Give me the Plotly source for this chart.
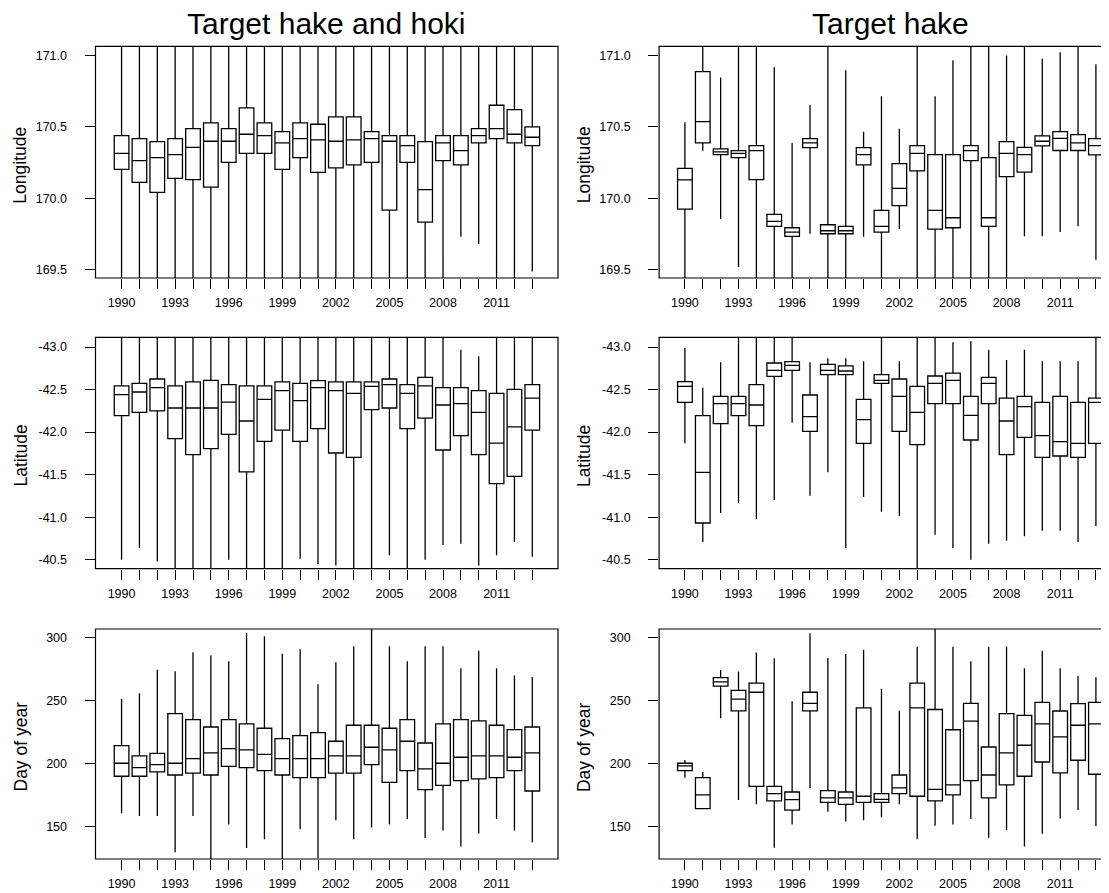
import plotly.graph_objects as go
from plotly.subplots import make_subplots

years = list(range(1990, 2014))
x_tick_labels = [str(y) if (y - 1990) % 3 == 0 else "" for y in years]

# ---------------- Longitude, target hake and hoki ----------------
lon_both_hi = [171.2] * 24
lon_both_q3 = [170.439, 170.418, 170.397, 170.418, 170.488, 170.528, 170.488, 170.633, 170.528, 170.467, 170.528, 170.519,
               170.570, 170.570, 170.467, 170.439, 170.439, 170.397, 170.439, 170.439, 170.488, 170.652, 170.621, 170.500]
lon_both_med = [170.315, 170.264, 170.285, 170.306, 170.357, 170.400, 170.400, 170.449, 170.439, 170.388, 170.418, 170.409,
                170.400, 170.409, 170.418, 170.400, 170.369, 170.061, 170.388, 170.334, 170.439, 170.488, 170.449, 170.428]
lon_both_q1 = [170.203, 170.112, 170.042, 170.140, 170.131, 170.079, 170.252, 170.315, 170.315, 170.203, 170.285, 170.182,
               170.213, 170.234, 170.252, 169.918, 170.252, 169.834, 170.264, 170.234, 170.388, 170.418, 170.388, 170.369]
lon_both_lo = [169.3, 169.3, 169.3, 169.3, 169.3, 169.3, 169.3, 169.3, 169.3, 169.3, 169.3, 169.3,
               169.3, 169.3, 169.3, 169.3, 169.3, 169.3, 169.3, 169.731, 169.680, 169.3, 169.3, 169.488]

# ---------------- Longitude, target hake ----------------
lon_hake_hi = [170.533, 171.2, 170.846, 171.2, 171.2, 170.918, 170.388, 170.654, 171.2, 170.897, 170.467, 170.715,
               170.488, 171.2, 170.715, 170.967, 171.2, 171.2, 171.0, 171.2, 170.979, 171.023, 171.2, 170.940]
lon_hake_q3 = [170.210, 170.888, 170.346, 170.334, 170.369, 169.888, 169.794, 170.418, 169.815, 169.804, 170.355, 169.916,
               170.243, 170.369, 170.306, 170.306, 170.369, 170.285, 170.397, 170.357, 170.437, 170.467, 170.446, 170.418]
lon_hake_med = [170.129, 170.537, 170.325, 170.315, 170.334, 169.839, 169.764, 170.388, 169.773, 169.773, 170.306, 169.804,
                170.070, 170.315, 169.916, 169.864, 170.334, 169.864, 170.315, 170.306, 170.400, 170.420, 170.388, 170.369]
lon_hake_q1 = [169.925, 170.388, 170.306, 170.285, 170.131, 169.804, 169.734, 170.355, 169.752, 169.752, 170.234, 169.764,
               169.949, 170.192, 169.785, 169.794, 170.264, 169.804, 170.152, 170.184, 170.367, 170.335, 170.335, 170.305]
lon_hake_lo = [169.3, 170.334, 169.855, 169.519, 169.3, 169.3, 169.3, 169.752, 169.3, 169.3, 169.731, 169.3,
               169.785, 169.3, 169.3, 169.3, 169.3, 169.3, 169.3, 169.734, 169.734, 169.764, 169.804, 169.570]

# ---------------- Latitude, target hake and hoki ----------------
lat_both_lo = [-43.3] * 19 + [-42.969, -42.890, -43.3, -43.3, -43.3]
lat_both_q1 = [-42.542, -42.573, -42.624, -42.542, -42.589, -42.608, -42.557, -42.542, -42.542, -42.589, -42.573, -42.604,
               -42.589, -42.589, -42.589, -42.624, -42.557, -42.643, -42.522, -42.522, -42.487, -42.455, -42.502, -42.557]
lat_both_med = [-42.440, -42.471, -42.522, -42.283, -42.283, -42.283, -42.353, -42.130, -42.385, -42.487, -42.369, -42.522,
                -42.487, -42.455, -42.538, -42.557, -42.455, -42.542, -42.318, -42.334, -42.232, -41.871, -42.060, -42.400]
lat_both_q3 = [-42.193, -42.232, -42.248, -41.922, -41.734, -41.805, -41.973, -41.531, -41.891, -42.024, -41.891, -42.040,
               -41.754, -41.703, -42.263, -42.283, -42.040, -42.165, -41.789, -41.958, -41.734, -41.393, -41.480, -42.024]
lat_both_hi = [-40.500, -40.637, -40.480, -40.2, -40.2, -40.2, -40.500, -40.2, -40.2, -40.2, -40.512, -40.449,
               -40.433, -40.2, -40.2, -40.551, -40.2, -40.500, -40.672, -40.688, -40.433, -40.551, -40.708, -40.535]

# ---------------- Latitude, target hake ----------------
lat_hake_lo = [-42.988, -42.522, -42.820, -43.3, -43.3, -43.3, -43.3, -42.820, -42.867, -42.867, -42.832, -43.3,
               -42.832, -43.3, -43.3, -43.055, -43.071, -42.969, -42.847, -42.969, -42.832, -42.832, -42.832, -43.3]
lat_hake_q1 = [-42.592, -42.193, -42.420, -42.420, -42.557, -42.812, -42.828, -42.436, -42.796, -42.777, -42.385, -42.675,
               -42.624, -42.538, -42.659, -42.694, -42.420, -42.643, -42.400, -42.420, -42.350, -42.420, -42.350, -42.400]
lat_hake_med = [-42.538, -41.527, -42.334, -42.334, -42.318, -42.726, -42.784, -42.181, -42.726, -42.718, -42.146, -42.608,
                -42.420, -42.232, -42.573, -42.608, -42.197, -42.573, -42.130, -42.299, -41.958, -41.887, -41.868, -42.350]
lat_hake_q3 = [-42.350, -40.931, -42.099, -42.193, -42.075, -42.655, -42.726, -42.009, -42.675, -42.675, -41.868, -42.573,
               -42.009, -41.852, -42.334, -42.334, -41.907, -42.334, -41.734, -41.938, -41.703, -41.719, -41.703, -41.868]
lat_hake_hi = [-41.868, -40.708, -41.049, -41.166, -40.978, -41.201, -42.110, -41.252, -41.527, -40.637, -41.237, -41.064,
               -41.013, -40.2, -40.794, -40.637, -40.500, -40.688, -40.723, -40.774, -40.841, -40.841, -40.708, -40.896]

# ---------------- Day of year, target hake and hoki ----------------
day_both_hi = [251.1, 255.6, 274.3, 273.0, 288.1, 285.7, 281.0, 303.4, 300.8, 287.0, 290.5, 262.7,
               280.2, 292.9, 320.0, 292.9, 281.0, 292.9, 292.9, 275.4, 289.4, 275.4, 269.6, 268.5]
day_both_q3 = [214.0, 205.8, 207.9, 239.4, 234.7, 228.8, 234.7, 231.2, 227.8, 219.6, 222.0, 224.3,
               217.5, 230.2, 230.2, 227.8, 234.7, 216.1, 231.2, 234.7, 233.6, 230.2, 226.7, 228.8]
day_both_med = [200.0, 196.6, 198.9, 200.0, 203.7, 208.2, 211.6, 210.6, 207.1, 203.7, 203.7, 203.7,
                205.8, 205.8, 212.7, 210.6, 217.5, 195.5, 200.0, 204.8, 205.8, 205.8, 204.8, 208.2]
day_both_q1 = [189.7, 189.7, 193.1, 190.7, 192.1, 190.7, 197.6, 196.6, 194.2, 190.7, 188.6, 188.6,
               192.1, 192.1, 198.9, 184.9, 194.2, 179.1, 182.5, 186.2, 187.6, 188.6, 194.2, 178.0]
day_both_lo = [160.3, 158.2, 158.2, 129.4, 158.2, 110.0, 151.3, 132.8, 139.7, 110.0, 147.6, 124.8,
               154.8, 139.7, 149.0, 151.3, 155.8, 140.7, 146.6, 133.9, 144.2, 155.8, 146.6, 137.3]

# ---------------- Day of year, target hake ----------------
day_hake_hi = [202.6, 193.1, 274.1, 272.8, 287.9, 283.4, 249.2, 303.3, 283.5, 286.8, 290.2, 259.1,
               241.6, 292.6, 320.0, 292.6, 281.0, 292.6, 292.8, 275.4, 289.4, 275.4, 269.5, 268.3]
day_hake_q3 = [200.0, 188.6, 268.0, 257.8, 263.6, 181.7, 177.2, 256.4, 178.3, 177.2, 244.0, 175.9,
               190.7, 263.6, 242.7, 226.6, 247.5, 212.9, 239.4, 238.1, 248.4, 241.5, 247.3, 248.4]
day_hake_med = [197.9, 174.9, 264.6, 250.9, 256.4, 175.9, 171.2, 247.5, 172.5, 172.5, 173.8, 171.4,
                180.4, 244.0, 179.3, 182.8, 233.5, 190.7, 208.2, 214.3, 231.2, 220.9, 230.2, 231.2]
day_hake_q1 = [194.2, 164.0, 261.2, 241.6, 181.7, 170.1, 162.8, 241.6, 169.0, 167.4, 169.0, 169.0,
               175.9, 173.8, 170.1, 174.9, 186.2, 172.5, 182.8, 189.7, 201.0, 192.3, 202.4, 191.3]
day_hake_lo = [188.6, 164.0, 235.8, 170.9, 167.4, 132.9, 151.3, 180.4, 161.6, 153.7, 154.8, 157.1,
               167.4, 139.7, 150.3, 151.3, 155.8, 140.8, 147.0, 134.0, 144.1, 156.1, 162.9, 150.2]

titles = ["Target hake and hoki", "Target hake"]
y_titles = ["Longitude", "Latitude", "Day of year"]

lon_ticks = [169.5, 170.0, 170.5, 171.0]
lon_ticktext = ["169.5", "170.0", "170.5", "171.0"]
lat_ticks = [-43.0, -42.5, -42.0, -41.5, -41.0, -40.5]
lat_ticktext = ["-43.0", "-42.5", "-42.0", "-41.5", "-41.0", "-40.5"]
day_ticks = [150, 200, 250, 300]
day_ticktext = ["150", "200", "250", "300"]

# ---------------- layout geometry (pixels) ----------------
W, H = 1109, 893
col_px = [(87.5, 550.0), (651.1, 1113.8)]
row_px = [(38.3, 270.0), (329.3, 560.7), (621.0, 851.0)]
x_ranges = [[1988.54, 2014.44], [1988.556, 2014.18]]
y_ranges = [[169.442, 171.065], [-40.394, -43.114], [124.0, 306.6]]

FONT = "Liberation Sans, Arial, Helvetica, sans-serif"

fig = make_subplots(rows=3, cols=2)

panels = [
    [(lon_both_lo, lon_both_q1, lon_both_med, lon_both_q3, lon_both_hi),
     (lon_hake_lo, lon_hake_q1, lon_hake_med, lon_hake_q3, lon_hake_hi)],
    [(lat_both_lo, lat_both_q1, lat_both_med, lat_both_q3, lat_both_hi),
     (lat_hake_lo, lat_hake_q1, lat_hake_med, lat_hake_q3, lat_hake_hi)],
    [(day_both_lo, day_both_q1, day_both_med, day_both_q3, day_both_hi),
     (day_hake_lo, day_hake_q1, day_hake_med, day_hake_q3, day_hake_hi)],
]
yticks = [(lon_ticks, lon_ticktext), (lat_ticks, lat_ticktext), (day_ticks, day_ticktext)]

shapes = []
annotations = []
for r in range(3):
    for c in range(2):
        lo, q1, med, q3, hi = panels[r][c]
        fig.add_trace(go.Box(
            x=years, lowerfence=lo, q1=q1, median=med, q3=q3, upperfence=hi,
            width=0.82, whiskerwidth=0, fillcolor="white",
            line=dict(color="black", width=1.3), boxpoints=False, hoverinfo="skip",
            showlegend=False), row=r + 1, col=c + 1)
        idx = r * 2 + c + 1
        xa = "xaxis" if idx == 1 else f"xaxis{idx}"
        ya = "yaxis" if idx == 1 else f"yaxis{idx}"
        x0p, x1p = col_px[c]
        y0p, y1p = row_px[r]
        xdom = [x0p / W, min(x1p / W, 1.0)]
        ydom = [1 - y1p / H, 1 - y0p / H]
        xr = x_ranges[c]
        fig.layout[xa].update(
            domain=xdom, range=xr, tickmode="array", tickvals=years, ticktext=x_tick_labels,
            ticks="outside", ticklen=10, tickwidth=1, tickcolor="black", showgrid=False,
            zeroline=False, showline=False, ticklabelstandoff=3,
            tickfont=dict(family=FONT, size=12.5, color="black"))
        tv, tt = yticks[r]
        fig.layout[ya].update(
            domain=ydom, range=y_ranges[r], tickmode="array", tickvals=tv, ticktext=tt,
            ticks="outside", ticklen=10, tickwidth=1, tickcolor="black", showgrid=False,
            zeroline=False, showline=False, ticklabelstandoff=15,
            tickfont=dict(family=FONT, size=12.5, color="black"))
        shapes.append(dict(type="rect", xref="paper", yref="paper",
                           x0=x0p / W, x1=x1p / W, y0=1 - y1p / H, y1=1 - y0p / H,
                           line=dict(color="black", width=1.2), fillcolor="rgba(0,0,0,0)", layer="above"))
        annotations.append(dict(text=y_titles[r], xref="paper", yref="paper",
                                x=(x0p - 75) / W, y=1 - ((y0p + y1p) / 2 + 3) / H,
                                xanchor="center", yanchor="middle", textangle=-90, showarrow=False,
                                font=dict(family=FONT, size=17.5, color="black")))

for c in range(2):
    x0p, x1p = col_px[c]
    annotations.append(dict(text=titles[c], xref="paper", yref="paper",
                            x=((x0p + x1p) / 2) / W, y=1 - 15.5 / H,
                            xanchor="center", yanchor="middle", showarrow=False,
                            font=dict(family=FONT, size=30, color="black")))

fig.update_layout(
    width=W, height=H, margin=dict(l=0, r=0, t=0, b=0),
    paper_bgcolor="white", plot_bgcolor="white", showlegend=False,
    shapes=shapes, annotations=annotations,
)

fig.write_html("out.html")
